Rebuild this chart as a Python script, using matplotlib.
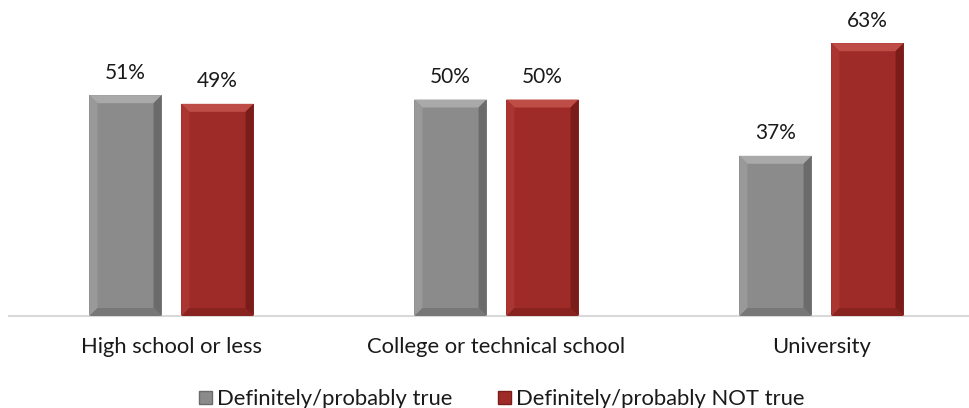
import matplotlib
matplotlib.use("Agg")
import matplotlib.pyplot as plt
from matplotlib.patches import Polygon, Patch
import numpy as np

categories = ["High school or less", "College or technical school", "University"]
true_vals = [51, 50, 37]
not_true_vals = [49, 50, 63]
series_names = ["Definitely/probably true", "Definitely/probably NOT true"]

plt.rcParams['font.family'] = ['Lato', 'DejaVu Sans']

W, H = 970, 408
fig = plt.figure(figsize=(W/100, H/100), dpi=100)
ax_left, ax_right = 9, 970
ax_bottom, ax_top = 316, 5
ax = fig.add_axes([ax_left/W, 1 - ax_bottom/H, (ax_right-ax_left)/W, (ax_bottom-ax_top)/H])
ax.set_xlim(-0.5, (ax_right - 171.5)/325)
ax.set_ylim(0, (ax_bottom - ax_top)/4.33)

x = np.arange(len(categories))
bw = 0.222
off = 0.1415

colors = {
    0: dict(main="#8b8b8b", top="#a9a9a9", left="#999999", right="#6b6b6b", bottom="#777777"),
    1: dict(main="#9f2b28", top="#bf4d47", left="#ab3531", right="#7a1c19", bottom="#88231f"),
}

bb = ax.get_window_extent()
dxp = (ax.get_xlim()[1] - ax.get_xlim()[0]) / bb.width
dyp = (ax.get_ylim()[1] - ax.get_ylim()[0]) / bb.height
bev = 8

FS = 15.8
TXT = "#1a1a1a"

for si, vals in enumerate([true_vals, not_true_vals]):
    c = colors[si]
    xs = x + (-off if si == 0 else off)
    bars = ax.bar(xs, vals, width=bw, color=c["main"], edgecolor="none", zorder=2)
    for b, v in zip(bars, vals):
        l, r = b.get_x(), b.get_x() + b.get_width()
        t, bo = b.get_height(), 0
        bx, by = bev*dxp, bev*dyp
        polys = [
            ([(l, t), (r, t), (r-bx, t-by), (l+bx, t-by)], c["top"]),
            ([(l, t), (l+bx, t-by), (l+bx, bo+by), (l, bo)], c["left"]),
            ([(r, t), (r-bx, t-by), (r-bx, bo+by), (r, bo)], c["right"]),
            ([(l, bo), (l+bx, bo+by), (r-bx, bo+by), (r, bo)], c["bottom"]),
        ]
        for pts, col in polys:
            ax.add_patch(Polygon(pts, closed=True, facecolor=col, edgecolor="none", zorder=3))
        ax.annotate(f"{v}%", (b.get_x() + b.get_width()/2, t), xytext=(0, 9),
                    textcoords="offset points", ha="center", va="bottom",
                    fontsize=15, color=TXT)

for s in ["top", "right", "left"]:
    ax.spines[s].set_visible(False)
ax.spines["bottom"].set_color("#d9d9d9")
ax.spines["bottom"].set_linewidth(1.5)
ax.set_yticks([])
ax.set_xticks(x)
ax.set_xticklabels(categories, fontsize=FS, color=TXT)
ax.tick_params(axis="x", length=0, pad=15)

handles = [Patch(facecolor=colors[0]["main"], edgecolor=colors[0]["right"], linewidth=1),
           Patch(facecolor=colors[1]["main"], edgecolor=colors[1]["right"], linewidth=1)]
fig.legend(handles, series_names, loc="center", bbox_to_anchor=(502/W, 1 - 399/H),
           ncol=2, frameon=False, fontsize=FS, handlelength=0.55, handleheight=0.55,
           handletextpad=0.25, columnspacing=2.1, labelcolor=TXT, borderpad=0,
           borderaxespad=0)

fig.savefig("out.png", dpi=100)
